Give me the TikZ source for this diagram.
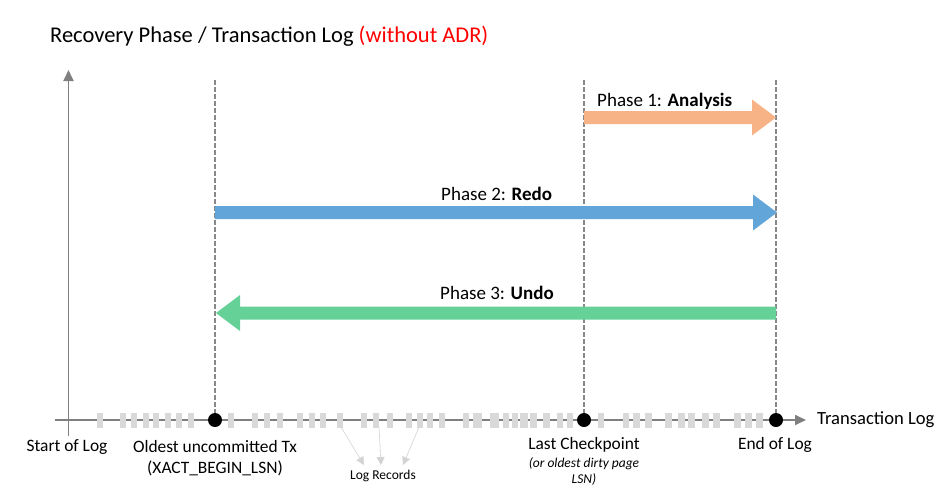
\documentclass[tikz,border=0pt]{standalone}
\usepackage{fontspec}
\setmainfont{Carlito}
\usetikzlibrary{arrows.meta}
\definecolor{axisgray}{HTML}{7F7F7F}
\definecolor{dashgray}{HTML}{888888}
\definecolor{recgray}{HTML}{D9D9D9}
\definecolor{lrgray}{HTML}{D3D3D3}
\definecolor{orangeA}{HTML}{F7B285}
\definecolor{blueA}{HTML}{62A6D9}
\definecolor{greenA}{HTML}{66D197}
\definecolor{redA}{HTML}{FF0000}
\tikzset{
  axisline/.style={draw=axisgray, line width=1.8pt},
  dashline/.style={draw=dashgray, line width=1.8pt, dash pattern=on 4.5pt off 2.5pt},
  rec/.style={fill=recgray},
  dotnode/.style={circle, fill=black, minimum size=14pt, inner sep=0pt},
  lbl/.style={font=\fontsize{17.4}{21}\selectfont, inner sep=0pt},
  smalllbl/.style={font=\fontsize{13.5}{16}\selectfont, inner sep=0pt},
  phaselbl/.style={font=\fontsize{19}{22}\selectfont, inner sep=0pt, anchor=base west},
  lrarrow/.style={draw=lrgray, line width=0.6pt, -{Triangle[length=8pt,width=8pt]}},
}
\begin{document}
\begin{tikzpicture}[x=1pt,y=-1pt]
\useasboundingbox (0,0) rectangle (945,491);
% title
\node[anchor=base west, inner sep=0pt, font=\fontsize{22.5}{26}\selectfont] (title) at (50,42)
  {Recovery Phase / Transaction Log \textcolor{redA}{(without ADR)}};
% axes
\coordinate (vtop) at (68.5,70);
\coordinate (vbot) at (68.5,436);
\coordinate (hleft) at (55,420);
\coordinate (hright) at (806,420);
\draw[axisline, -{Triangle[length=11pt,width=10pt]}] (vbot) -- (vtop);
\draw[axisline, -{Triangle[length=11pt,width=10pt]}] (hleft) -- (hright);
% log records
\foreach \x/\w in {97/6,120/6,131/6,143/6,153/6,165/6,176/6,188/6,
                   228/6,252/6,264/6,277/6,297/6,309/6,320/6,337/6,
                   361/6,373/6,387/6,406/6,417/6,427/6,439/6,
                   463/6,473/9,490/9,503/6,512/6,520/8,530/7,543/7,557/6,567/6,
                   598/6,623/6,633/7,645/7,665/7,678/7,688/7,702/7,713/7,734/7,745/7,756/7}
  \fill[rec] (\x,412.5) rectangle ++(\w,15);
% dashed verticals and dots
\coordinate (t1) at (215,80);
\coordinate (t2) at (584,80);
\coordinate (t3) at (776,80);
\node[dotnode] (d1) at (215,420) {};
\node[dotnode] (d2) at (584,420) {};
\node[dotnode] (d3) at (776,420) {};
\draw[dashline] (t1) -- (d1);
\draw[dashline] (t2) -- (d2);
\draw[dashline] (t3) -- (d3);
% phase 1 arrow
\fill[orangeA] (584,111) -- (752,111) -- (752,99.5) -- (776,117.5) -- (752,135.5) -- (752,124) -- (584,124) -- cycle;
\node[phaselbl] (p1) at (597,106) {Phase 1: \textbf{Analysis}};
% phase 2 arrow
\fill[blueA] (215,206) -- (753,206) -- (753,194.5) -- (777,212.5) -- (753,230.5) -- (753,219) -- (215,219) -- cycle;
\node[phaselbl] (p2) at (441,200) {Phase 2: \textbf{Redo}};
% phase 3 arrow
\fill[greenA] (776,306.5) -- (240,306.5) -- (240,295) -- (216,313) -- (240,331) -- (240,319.5) -- (776,319.5) -- cycle;
\node[phaselbl] (p3) at (440,299) {Phase 3: \textbf{Undo}};
% labels
\node[lbl] (startlog) at (67,447) {Start of Log};
\node[lbl, align=center] (oldest) at (215,458) {Oldest uncommitted Tx\\(XACT\_BEGIN\_LSN)};
\node[lbl] (lastcp) at (584,445) {Last Checkpoint};
\node[smalllbl, align=center, font=\fontsize{13.5}{16.5}\selectfont\itshape] (lastcpnote) at (584,471.5) {(or oldest dirty page\\LSN)};
\node[lbl] (endlog) at (775,445) {End of Log};
\node[lbl, anchor=west, font=\fontsize{18.6}{22}\selectfont] (txlog) at (817,420) {Transaction Log};
\node[smalllbl] (logrec) at (383,476) {Log Records};
% log record pointers
\coordinate (r1) at (341,427);
\coordinate (r2) at (379,427);
\coordinate (r3) at (419,427);
\coordinate (e1) at (364,465);
\coordinate (e2) at (381,465);
\coordinate (e3) at (403,465);
\draw[lrarrow] (r1) -- (e1);
\draw[lrarrow] (r2) -- (e2);
\draw[lrarrow] (r3) -- (e3);
\end{tikzpicture}
\end{document}
